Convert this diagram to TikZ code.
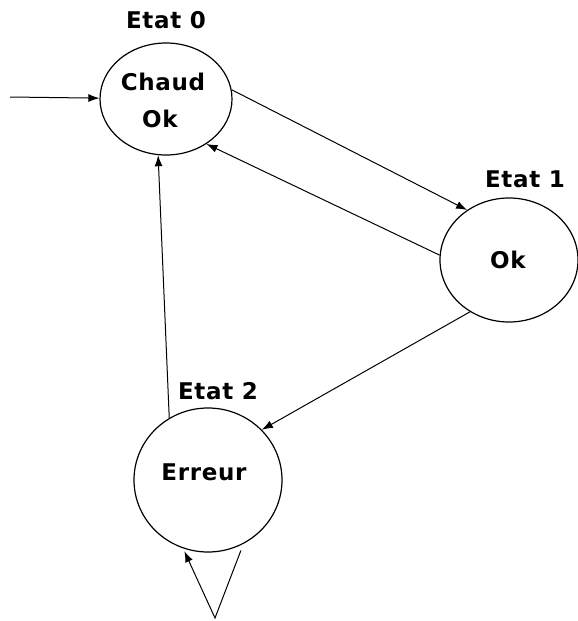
\documentclass[tikz,border=0pt]{standalone}
\usepackage{fontspec}
\setmainfont{DejaVu Sans}[BoldFont={DejaVu Sans Bold}]
\newfontfamily\statefont{DejaVu Sans Bold}[LetterSpace=3]
\usetikzlibrary{shapes.geometric,arrows.meta}
\begin{document}
\begin{tikzpicture}[x=1pt,y=-1pt,
  statebox/.style={draw, ellipse, line width=1.2pt, inner sep=0pt},
  txt/.style={anchor=base, inner sep=0pt, font=\statefont\fontsize{23}{23}\selectfont},
  trans/.style={line width=1pt, -{Latex[length=11pt,width=8pt]}}]
\useasboundingbox (0,0) rectangle (578,621);

% states
\node[statebox, minimum width=132pt, minimum height=112pt] (e0) at (166,99) {};
\node[statebox, minimum width=138pt, minimum height=124pt] (e1) at (509,260) {};
\node[statebox, minimum width=148pt, minimum height=144pt] (e2) at (208,480) {};

% state titles
\node[txt] (t0) at (166,28) {Etat 0};
\node[txt] (t1) at (525,187) {Etat 1};
\node[txt] (t2) at (218,399) {Etat 2};

% state contents
\node[txt] (c0a) at (163,90) {Chaud};
\node[txt] (c0b) at (160,127) {Ok};
\node[txt] (c1) at (508,268) {Ok};
\node[txt] (c2) at (204,480) {Erreur};

% free ends
\coordinate (init) at (10,97);
\coordinate (loopv) at (215,618);

% transitions
\draw[trans] (init) -- (e0);
\draw[trans] (e0.8) -- (e1.130);
\draw[trans] (e1.176) -- (e0.-48);
\draw[trans] (e1.233) -- (e2.43);
\draw[trans] (e2.122) -- (e0.-98);
\draw[trans, shorten <=7pt, shorten >=3pt] (e2.-61) -- (loopv) -- (e2.-110);
\end{tikzpicture}
\end{document}
